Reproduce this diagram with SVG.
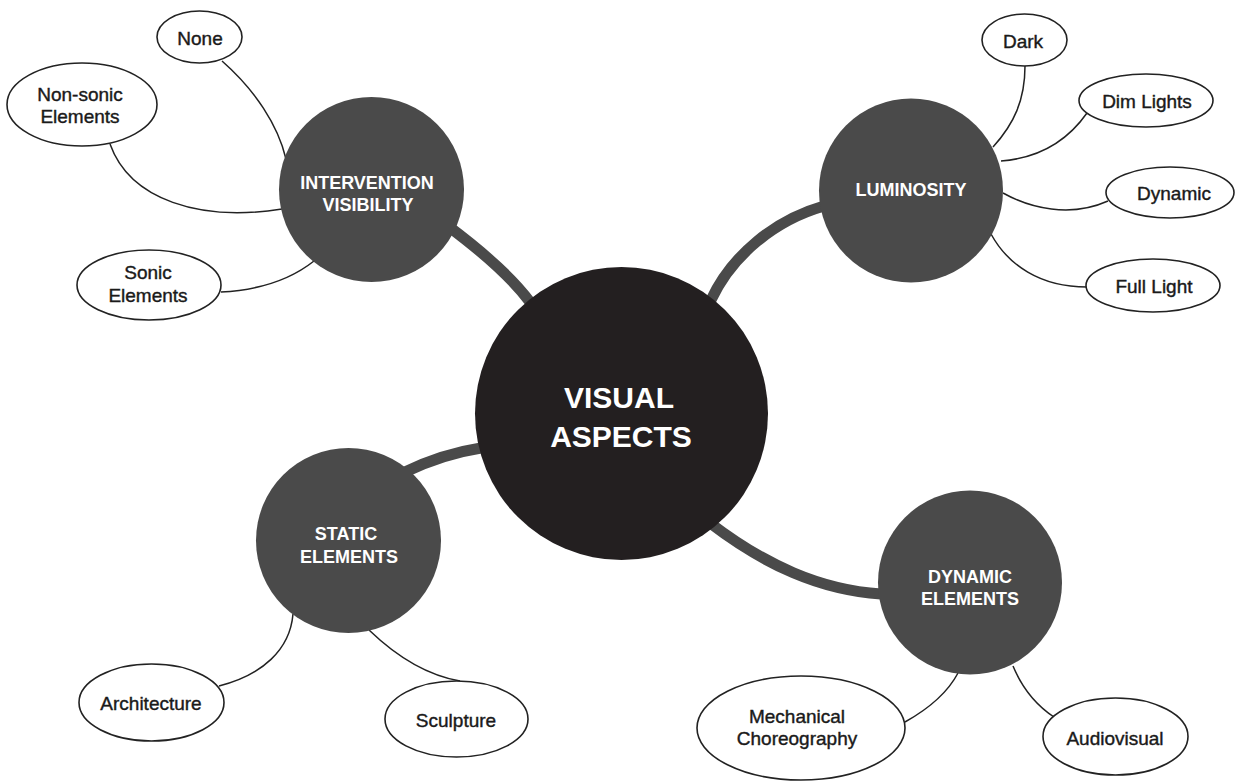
<svg xmlns="http://www.w3.org/2000/svg" width="1236" height="781" viewBox="0 0 1236 781">
<style>
.bg{fill:#ffffff}
.main{fill:#231f20}
.sub{fill:#4a4a4a}
.leaf{fill:#ffffff;stroke:#222222;stroke-width:1.6}
.thick{fill:none;stroke:#4a4a4a;stroke-width:11}
.thin{fill:none;stroke:#222222;stroke-width:1.5}
.tmain{font-family:"Liberation Sans",Arial,sans-serif;font-weight:bold;font-size:30px;fill:#ffffff;text-anchor:middle}
.tsub{font-family:"Liberation Sans",Arial,sans-serif;font-weight:bold;font-size:18px;fill:#ffffff;text-anchor:middle}
.tleaf{font-family:"Liberation Sans",Arial,sans-serif;font-size:19px;fill:#1a1a1a;stroke:#1a1a1a;stroke-width:0.4;text-anchor:middle}
</style>
<rect class="bg" x="0" y="0" width="1236" height="781"/>
<g id="connectors">
<path class="thick" d="M448,226 C480,250 510,275 530,302"/>
<path class="thick" d="M824,206 C775,220 732,255 711,300"/>
<path class="thick" d="M405,472 C430,460 455,452 481,448"/>
<path class="thick" d="M710,523 C765,565 820,590 881,594"/>
<path class="thin" d="M222,61 C255,90 278,125 286,159"/>
<path class="thin" d="M110,144 C130,200 200,222 282,209"/>
<path class="thin" d="M221,292 C260,290 290,280 314,261"/>
<path class="thin" d="M1025,66 C1025,100 1014,124 993,147"/>
<path class="thin" d="M1087,113 C1068,140 1040,158 1001,161"/>
<path class="thin" d="M1003,193 C1030,208 1070,218 1108,201"/>
<path class="thin" d="M991,234 C1008,265 1040,287 1087,287"/>
<path class="thin" d="M219,686 C262,675 290,650 293,614"/>
<path class="thin" d="M369,630 C395,655 425,675 460,681"/>
<path class="thin" d="M905,722 C930,708 948,692 958,673"/>
<path class="thin" d="M1013,666 C1023,690 1036,705 1054,717"/>
</g>
<g id="visual-aspects">
<circle class="main" cx="621.5" cy="413.5" r="146.5"/>
<text class="tmain" x="619" y="408">VISUAL</text>
<text class="tmain" x="621" y="447">ASPECTS</text>
</g>
<g id="intervention-visibility">
<circle class="sub" cx="371.5" cy="189.5" r="92.5"/>
<text class="tsub" x="367" y="189">INTERVENTION</text>
<text class="tsub" x="368" y="211">VISIBILITY</text>
</g>
<g id="none">
<ellipse class="leaf" cx="199.5" cy="37" rx="42.5" ry="26"/>
<text class="tleaf" x="200" y="45">None</text>
</g>
<g id="non-sonic">
<ellipse class="leaf" cx="82" cy="104.5" rx="75" ry="41.5"/>
<text class="tleaf" x="80" y="101">Non-sonic</text>
<text class="tleaf" x="80" y="123">Elements</text>
</g>
<g id="sonic">
<ellipse class="leaf" cx="149" cy="285" rx="72" ry="35"/>
<text class="tleaf" x="148" y="279">Sonic</text>
<text class="tleaf" x="148" y="302">Elements</text>
</g>
<g id="luminosity">
<circle class="sub" cx="911" cy="190.5" r="92"/>
<text class="tsub" x="911" y="196">LUMINOSITY</text>
</g>
<g id="dark">
<ellipse class="leaf" cx="1024.5" cy="40" rx="42.5" ry="26"/>
<text class="tleaf" x="1023" y="48">Dark</text>
</g>
<g id="dim-lights">
<ellipse class="leaf" cx="1146" cy="100.5" rx="67" ry="26.5"/>
<text class="tleaf" x="1147" y="108">Dim Lights</text>
</g>
<g id="dynamic">
<ellipse class="leaf" cx="1170" cy="192.5" rx="64" ry="25.5"/>
<text class="tleaf" x="1174" y="200">Dynamic</text>
</g>
<g id="full-light">
<ellipse class="leaf" cx="1153" cy="285.5" rx="67" ry="26.5"/>
<text class="tleaf" x="1154" y="293">Full Light</text>
</g>
<g id="static-elements">
<circle class="sub" cx="348.5" cy="540.5" r="92.5"/>
<text class="tsub" x="346" y="540">STATIC</text>
<text class="tsub" x="349" y="563">ELEMENTS</text>
</g>
<g id="architecture">
<ellipse class="leaf" cx="151.5" cy="702.5" rx="72.5" ry="38.5"/>
<text class="tleaf" x="151" y="710">Architecture</text>
</g>
<g id="sculpture">
<ellipse class="leaf" cx="456.5" cy="719" rx="71.5" ry="38"/>
<text class="tleaf" x="456" y="727">Sculpture</text>
</g>
<g id="dynamic-elements">
<circle class="sub" cx="970" cy="582.5" r="92"/>
<text class="tsub" x="970" y="583">DYNAMIC</text>
<text class="tsub" x="970" y="605">ELEMENTS</text>
</g>
<g id="mechanical-choreography">
<ellipse class="leaf" cx="801" cy="728" rx="104" ry="52"/>
<text class="tleaf" x="797" y="723">Mechanical</text>
<text class="tleaf" x="797" y="745">Choreography</text>
</g>
<g id="audiovisual">
<ellipse class="leaf" cx="1115.5" cy="736.5" rx="72.5" ry="38.5"/>
<text class="tleaf" x="1115" y="745">Audiovisual</text>
</g>
</svg>
